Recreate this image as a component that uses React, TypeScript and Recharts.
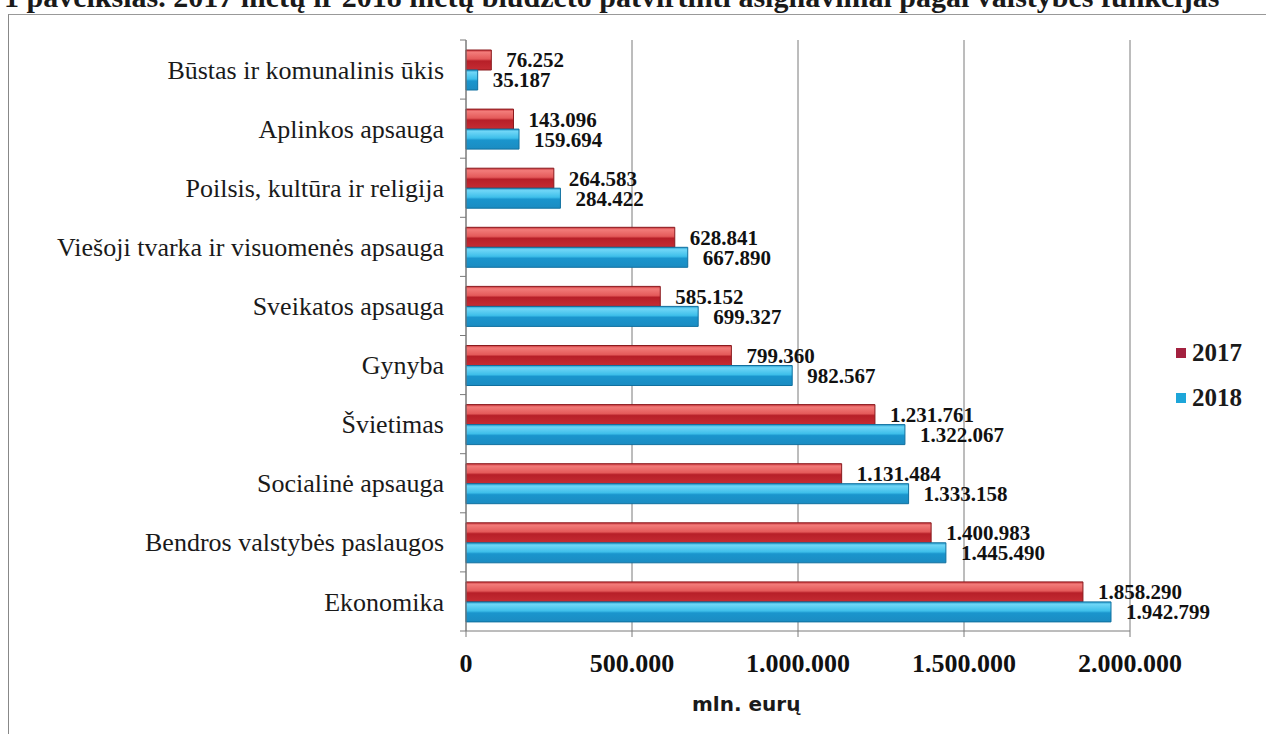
import {
  BarChart, Bar, XAxis, YAxis, CartesianGrid, Legend, LabelList,
} from "recharts";

const categories = [
  "Būstas ir komunalinis ūkis",
  "Aplinkos apsauga",
  "Poilsis, kultūra ir religija",
  "Viešoji tvarka ir visuomenės apsauga",
  "Sveikatos apsauga",
  "Gynyba",
  "Švietimas",
  "Socialinė apsauga",
  "Bendros valstybės paslaugos",
  "Ekonomika",
];
const values2017 = [76252, 143096, 264583, 628841, 585152, 799360, 1231761, 1131484, 1400983, 1858290];
const values2018 = [35187, 159694, 284422, 667890, 699327, 982567, 1322067, 1333158, 1445490, 1942799];
const xTicks = [0, 500000, 1000000, 1500000, 2000000];

const data = categories.map((name, i) => ({ name, y2017: values2017[i], y2018: values2018[i] }));

const W = 1266;
const H = 734;
const MARGIN = { top: 40, right: 136, bottom: 0, left: 0 };
const Y_WIDTH = 466;
const X_HEIGHT = 103;
const TICK_SIZE = 6;
const Y_TICK_MARGIN = 16;
const BAND = (H - MARGIN.top - MARGIN.bottom - X_HEIGHT) / categories.length;
const SERIF = "'Liberation Serif', 'Times New Roman', serif";
const AXIS = "#7a7a7a";

const fmt = (v: number) => String(v).replace(/\B(?=(\d{3})+(?!\d))/g, ".");

function CategoryTick(props: any) {
  const { x, y, payload, index } = props;
  const axisX = x + TICK_SIZE + Y_TICK_MARGIN;
  return (
    <g>
      <line x1={axisX - TICK_SIZE} x2={axisX} y1={y - BAND / 2} y2={y - BAND / 2} stroke={AXIS} />
      {index === categories.length - 1 && (
        <line x1={axisX - TICK_SIZE} x2={axisX} y1={y + BAND / 2} y2={y + BAND / 2} stroke={AXIS} />
      )}
      <text x={x} y={y} dy="0.35em" textAnchor="end" fontFamily={SERIF} fontSize={26} fill="#1a1a1a">
        {payload.value}
      </text>
    </g>
  );
}

function LegendBox() {
  const items = [
    { label: "2017", color: "#a3213f" },
    { label: "2018", color: "#1ea6d9" },
  ];
  return (
    <div style={{ fontFamily: SERIF, fontWeight: 700, fontSize: 25, color: "#1a1a1a", textAlign: "left" }}>
      {items.map((it) => (
        <div key={it.label} style={{ display: "flex", alignItems: "center", height: 45 }}>
          <span style={{ width: 10, height: 10, background: it.color, display: "inline-block", marginRight: 6 }} />
          <span>{it.label}</span>
        </div>
      ))}
    </div>
  );
}

export default function App() {
  return (
    <div style={{ position: "absolute", left: 0, top: 0, width: W, height: H, overflow: "hidden", background: "#fff" }}>
      {/* clipped figure caption above the frame */}
      <div style={{
        position: "absolute", left: 4, top: -20, whiteSpace: "nowrap",
        fontFamily: SERIF, fontWeight: 700, fontSize: 30, color: "#1a1a1a",
      }}>
        1 paveikslas. 2017 metų ir 2018 metų biudžeto patvirtinti asignavimai pagal valstybės funkcijas
      </div>
      <div style={{
        position: "absolute", left: 8, top: 14, width: W, height: H,
        borderLeft: "1.5px solid #888", borderTop: "1.5px solid #999",
      }} />
      <div style={{ position: "absolute", left: 0, top: 0 }}>
        <BarChart
          width={W}
          height={H}
          data={data}
          layout="vertical"
          margin={MARGIN}
          barSize={20}
          barGap={0}
        >
          <defs>
            <linearGradient id="gRed" x1="0" y1="0" x2="0" y2="1">
              <stop offset="0%" stopColor="#c9353b" />
              <stop offset="12%" stopColor="#f27b79" />
              <stop offset="45%" stopColor="#e45a5a" />
              <stop offset="55%" stopColor="#b71f28" />
              <stop offset="100%" stopColor="#c52c33" />
            </linearGradient>
            <linearGradient id="gBlue" x1="0" y1="0" x2="0" y2="1">
              <stop offset="0%" stopColor="#2a9fd0" />
              <stop offset="12%" stopColor="#6fd6f7" />
              <stop offset="45%" stopColor="#3ebfea" />
              <stop offset="55%" stopColor="#1a95cd" />
              <stop offset="100%" stopColor="#1b8cc2" />
            </linearGradient>
          </defs>
          <CartesianGrid horizontal={false} stroke={AXIS} />
          <XAxis
            type="number"
            domain={[0, 2000000]}
            ticks={xTicks}
            tickFormatter={fmt}
            height={X_HEIGHT}
            stroke={AXIS}
            tickSize={TICK_SIZE}
            tickMargin={17}
            tick={{ fontFamily: SERIF, fontWeight: 700, fontSize: 26, fill: "#111" }}
          />
          <YAxis
            type="category"
            dataKey="name"
            width={Y_WIDTH}
            stroke={AXIS}
            tickLine={false}
            tickSize={TICK_SIZE}
            tickMargin={Y_TICK_MARGIN}
            interval={0}
            tick={<CategoryTick />}
          />
          <Legend
            layout="vertical"
            verticalAlign="middle"
            align="center"
            wrapperStyle={{ position: "absolute", left: 1176, top: 330, width: 90 }}
            content={() => <LegendBox />}
          />
          <Bar dataKey="y2017" name="2017" fill="url(#gRed)" stroke="#8a1a1e" strokeWidth={1} isAnimationActive={false}>
            <LabelList
              dataKey="y2017"
              position="right"
              offset={15}
              formatter={(v: any) => fmt(v)}
              style={{ fontFamily: SERIF, fontWeight: 700, fontSize: 21, fill: "#111" }}
            />
          </Bar>
          <Bar dataKey="y2018" name="2018" fill="url(#gBlue)" stroke="#10709f" strokeWidth={1} isAnimationActive={false}>
            <LabelList
              dataKey="y2018"
              position="right"
              offset={15}
              formatter={(v: any) => fmt(v)}
              style={{ fontFamily: SERIF, fontWeight: 700, fontSize: 21, fill: "#111" }}
            />
          </Bar>
        </BarChart>
      </div>
      <div style={{
        position: "absolute", left: 692, top: 692, whiteSpace: "nowrap",
        fontFamily: "'DejaVu Sans', sans-serif", fontWeight: 700, fontSize: 20, color: "#1a1a1a",
      }}>
        mln. eurų
      </div>
    </div>
  );
}
